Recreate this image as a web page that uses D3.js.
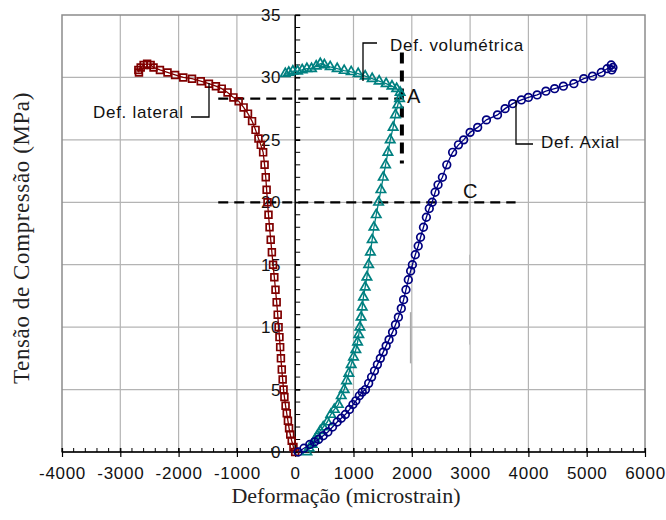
<!DOCTYPE html>
<html>
  <head>
    <title>Tensão x Deformação</title>
    <script src="https://d3js.org/d3.v7.min.js"></script>
    <style>
      body { margin: 0; background: #fff; }
      text { font-family: "Liberation Sans", Arial, sans-serif; }
    </style>
  </head>
  <body>
    <script>
      // [deformação (microstrain), tensão (MPa)]
      let lateral = [
        [0, 0], [-30, 0.4], [-60, 0.9], [-85, 1.4], [-105, 1.9], [-125, 2.5], [-145, 3.1], [-165, 3.7],
        [-185, 4.4], [-200, 5.0], [-215, 5.8], [-230, 6.6], [-245, 7.5], [-258, 8.4], [-270, 9.2],
        [-285, 10.0], [-300, 11.0], [-318, 12.0], [-338, 13.0], [-358, 14.0], [-380, 15.0], [-400, 16.0],
        [-420, 17.0], [-440, 18.0], [-458, 19.0], [-475, 20.0], [-490, 21.0], [-505, 22.0], [-525, 23.0],
        [-550, 24.0], [-590, 24.6], [-630, 25.1], [-680, 25.8], [-740, 26.5], [-810, 27.1], [-885, 27.6],
        [-970, 28.1], [-1060, 28.4], [-1160, 28.8], [-1260, 29.1], [-1360, 29.3], [-1480, 29.5],
        [-1620, 29.7], [-1770, 29.9], [-1920, 30.0], [-2060, 30.2], [-2190, 30.4], [-2320, 30.6],
        [-2430, 30.8], [-2480, 31.0], [-2540, 31.1], [-2600, 31.0], [-2650, 30.8], [-2690, 30.6], [-2680, 30.4]
      ]
      let volumetrica = [
        [200, 0], [240, 0.3], [290, 0.6], [340, 1.0], [380, 1.3], [430, 1.7], [480, 2.0], [550, 2.4],
        [610, 3.0], [670, 3.4], [740, 3.8], [790, 4.5], [840, 5.0], [880, 5.7], [920, 6.3], [960, 7.0],
        [1000, 7.6], [1040, 8.2], [1070, 8.8], [1090, 9.4], [1110, 10.0], [1130, 10.8], [1150, 11.6],
        [1170, 12.4], [1200, 13.2], [1230, 14.0], [1260, 15.0], [1290, 16.0], [1320, 17.0], [1350, 18.0],
        [1390, 19.0], [1430, 20.0], [1470, 21.0], [1510, 22.0], [1550, 23.0], [1590, 24.0], [1630, 25.0],
        [1680, 26.0], [1720, 27.0], [1760, 27.8], [1790, 28.3], [1800, 28.8], [1740, 29.1], [1660, 29.3],
        [1560, 29.5], [1440, 29.7], [1320, 29.9], [1200, 30.1], [1080, 30.3], [960, 30.45], [840, 30.55],
        [720, 30.7], [600, 30.85], [500, 31.0], [430, 31.1], [360, 30.9], [280, 30.7], [200, 30.7],
        [120, 30.6], [40, 30.5], [-40, 30.5], [-110, 30.4], [-170, 30.3]
      ]
      let axial = [
        [50, 0], [150, 0.3], [250, 0.6], [330, 0.8], [400, 1.0], [480, 1.3], [560, 1.6], [640, 2.0],
        [720, 2.4], [790, 2.7], [860, 3.0], [930, 3.4], [990, 3.8], [1040, 4.1], [1100, 4.5], [1150, 4.8],
        [1205, 5.0], [1260, 5.5], [1310, 6.0], [1360, 6.5], [1410, 7.0], [1460, 7.5], [1510, 8.0],
        [1560, 8.5], [1610, 9.0], [1670, 9.6], [1720, 10.2], [1770, 10.8], [1820, 11.5], [1860, 12.2],
        [1900, 13.0], [1940, 13.8], [1980, 14.5], [2010, 15.0], [2060, 15.8], [2110, 16.5], [2150, 17.2],
        [2200, 18.0], [2250, 18.8], [2300, 19.5], [2350, 20.0], [2400, 20.8], [2450, 21.4], [2525, 22.0],
        [2600, 23.0], [2700, 24.0], [2800, 24.6], [2890, 25.0], [3000, 25.6], [3130, 26.0], [3280, 26.6],
        [3470, 27.0], [3600, 27.5], [3730, 27.9], [3880, 28.2], [4000, 28.4], [4150, 28.6], [4300, 28.9],
        [4450, 29.1], [4600, 29.3], [4780, 29.5], [4950, 29.9], [5100, 30.1], [5250, 30.4], [5350, 30.7],
        [5420, 31.0], [5450, 30.8], [5430, 30.6]
      ]
      let xTicks = [-4000, -3000, -2000, -1000, 0, 1000, 2000, 3000, 4000, 5000, 6000]
      let yTicks = [0, 5, 10, 15, 20, 25, 30, 35]

      let width = 666, height = 520
      let mLeft = 62, mRight = 645, mTop = 15, mBottom = 452

      let svg = d3.select('body').append('svg')
                  .attr('width', width)
                  .attr('height', height)

      let xScale = d3.scaleLinear().domain([-4000, 6000]).range([mLeft, mRight])
      let yScale = d3.scaleLinear().domain([0, 35]).range([mBottom, mTop])

      // grid
      svg.append('g').selectAll('line').data(xTicks.slice(1, -1))
         .enter().append('line')
         .attr('x1', d => xScale(d)).attr('x2', d => xScale(d))
         .attr('y1', mTop).attr('y2', mBottom)
         .style('stroke', '#b4b4b4').style('stroke-width', 1.2)
      svg.append('g').selectAll('line').data(yTicks.slice(1, -1))
         .enter().append('line')
         .attr('x1', mLeft).attr('x2', mRight)
         .attr('y1', d => yScale(d)).attr('y2', d => yScale(d))
         .style('stroke', '#b4b4b4').style('stroke-width', 1.2)

      // little stray marks in the original
      svg.append('line').attr('x1', xScale(1980)).attr('x2', xScale(1980))
         .attr('y1', yScale(11.2)).attr('y2', yScale(7.1))
         .style('stroke', '#aaa').style('stroke-width', 1.5)
      svg.append('line').attr('x1', xScale(2990)).attr('x2', xScale(2990))
         .attr('y1', yScale(15.8)).attr('y2', yScale(8.6))
         .style('stroke', '#bbb').style('stroke-width', 1)

      svg.append('rect')
         .attr('x', mLeft).attr('y', mTop)
         .attr('width', mRight - mLeft).attr('height', mBottom - mTop)
         .style('fill', 'none').style('stroke', '#8c8c8c').style('stroke-width', 1.5)

      // x axis at the bottom
      let xAxis = d3.axisBottom(xScale).tickValues(xTicks).tickSize(5).tickPadding(10)
                    .tickFormat(d => d)
      let gx = svg.append('g').attr('transform', `translate(0, ${mBottom})`).call(xAxis)
      gx.select('.domain').remove()
      gx.append('line').attr('x1', mLeft).attr('x2', mRight).style('stroke', '#000').style('stroke-width', 1.3)
      gx.selectAll('.tick line').attr('y1', -4).style('stroke-width', 1.2)
      gx.selectAll('.tick text')
        .style('font-size', '17px').style('letter-spacing', '0.7px').style('fill', '#111')
      gx.append('g').selectAll('line').data(d3.range(-4000, 6001, 200))
        .enter().append('line')
        .attr('x1', d => xScale(d)).attr('x2', d => xScale(d))
        .attr('y1', 0).attr('y2', -4)
        .style('stroke', '#000').style('stroke-width', 1)

      // y axis through zero strain
      let yAxis = d3.axisLeft(yScale).tickValues(yTicks).tickSize(5).tickPadding(9)
      let gy = svg.append('g').attr('transform', `translate(${xScale(0)}, 0)`).call(yAxis)
      gy.select('.domain').remove()
      gy.append('line').attr('y1', mTop).attr('y2', mBottom).style('stroke', '#000').style('stroke-width', 1.5)
      gy.selectAll('.tick line').attr('x2', 5).style('stroke-width', 1.2)
      gy.selectAll('.tick text')
        .style('font-size', '17px').style('letter-spacing', '0.7px').style('fill', '#111')
      gy.append('g').selectAll('line').data(d3.range(0, 36, 1))
        .enter().append('line')
        .attr('y1', d => yScale(d)).attr('y2', d => yScale(d))
        .attr('x1', 0).attr('x2', 5)
        .style('stroke', '#000').style('stroke-width', 1)

      // dashed reference lines
      let dashed = svg.append('g').style('stroke', '#000').style('fill', 'none')
      dashed.append('line')
            .attr('x1', xScale(-1320)).attr('x2', xScale(1800))
            .attr('y1', yScale(28.3)).attr('y2', yScale(28.3))
            .style('stroke-width', 2.2).style('stroke-dasharray', '10,6')
      dashed.append('line')
            .attr('x1', xScale(-1320)).attr('x2', xScale(3780))
            .attr('y1', yScale(20)).attr('y2', yScale(20))
            .style('stroke-width', 2.2).style('stroke-dasharray', '10,6')
      dashed.append('line')
            .attr('x1', xScale(1830)).attr('x2', xScale(1830))
            .attr('y1', yScale(32)).attr('y2', yScale(23.1))
            .style('stroke-width', 4).style('stroke-dasharray', '11,7')

      // series
      let line = d3.line().x(d => xScale(d[0])).y(d => yScale(d[1]))
      let symbols = [
        {data: lateral, color: '#800000', type: d3.symbolSquare, size: 46},
        {data: volumetrica, color: '#008080', type: d3.symbolTriangle, size: 38},
        {data: axial, color: '#000080', type: d3.symbolCircle, size: 46}
      ]
      symbols.forEach(s => {
        let g = svg.append('g')
        g.append('path').attr('d', line(s.data))
         .style('fill', 'none').style('stroke', s.color).style('stroke-width', 1.3)
        g.selectAll('path.pt').data(s.data)
         .enter().append('path')
         .attr('class', 'pt')
         .attr('transform', d => `translate(${xScale(d[0])}, ${yScale(d[1])})`)
         .attr('d', d3.symbol().type(s.type).size(s.size))
         .style('fill', 'none').style('stroke', s.color).style('stroke-width', 1.7)
      })

      // annotations
      let ann = svg.append('g').style('font-size', '17px').style('letter-spacing', '0.7px').style('fill', '#111')
      ann.append('text').attr('x', 93).attr('y', 118).text('Def. lateral')
      ann.append('text').attr('x', 390).attr('y', 51).text('Def. volumétrica')
      ann.append('text').attr('x', 541).attr('y', 148).text('Def. Axial')
      ann.append('text').attr('x', 407).attr('y', 103).style('font-size', '20px').text('A')
      ann.append('text').attr('x', 463).attr('y', 198).style('font-size', '20px').text('C')

      let leader = svg.append('g').style('fill', 'none').style('stroke', '#000').style('stroke-width', 1.3)
      leader.append('path').attr('d', `M191,117 H209 V83`)
      leader.append('path').attr('d', `M377,43 H363 V81`)
      leader.append('path').attr('d', `M516,100 V144 H533`)

      // axis titles
      svg.append('text')
         .attr('x', 346).attr('y', 503)
         .attr('text-anchor', 'middle')
         .style('font-family', '"Liberation Serif", "Times New Roman", serif')
         .style('font-size', '22px').style('fill', '#222')
         .text('Deformação (microstrain)')
      svg.append('text')
         .attr('transform', 'translate(29, 238) rotate(-90)')
         .attr('text-anchor', 'middle')
         .style('font-family', '"Liberation Serif", "Times New Roman", serif')
         .style('font-size', '23px').style('letter-spacing', '0.6px').style('fill', '#222')
         .text('Tensão de Compressão (MPa)')
    </script>
  </body>
</html>
